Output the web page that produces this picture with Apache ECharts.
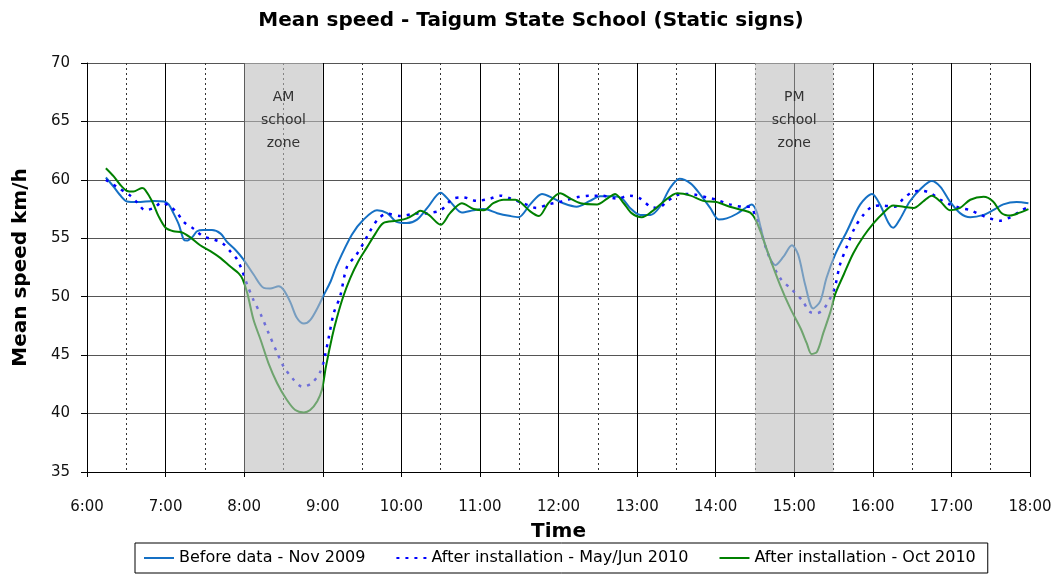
<!DOCTYPE html>
<html>
<head>
<meta charset="utf-8">
<script src="https://cdn.jsdelivr.net/npm/echarts@6/dist/echarts.min.js"></script>
<style>
html,body{margin:0;padding:0;background:#fff;}
#chart{width:1062px;height:579px;}
</style>
</head>
<body>
<div id="chart"></div>
<script>
// ---- data (time in decimal hours, mean speed km/h) ----
const beforeNov2009 = [[6.24,60.2],[6.34,59.4],[6.42,58.7],[6.51,58.15],[6.64,58.1],[6.85,58.2],[6.98,58.15],[7.04,57.9],[7.10,57.15],[7.17,56.15],[7.23,54.9],[7.27,54.8],[7.34,55.1],[7.40,55.6],[7.48,55.7],[7.59,55.7],[7.70,55.4],[7.78,54.7],[7.89,54.0],[7.99,53.2],[8.12,51.9],[8.25,50.75],[8.33,50.7],[8.44,50.9],[8.50,50.6],[8.59,49.5],[8.67,48.2],[8.76,47.7],[8.84,48.0],[8.93,49.0],[9.01,50.1],[9.10,51.3],[9.18,52.7],[9.37,55.3],[9.52,56.6],[9.69,57.4],[9.82,57.15],[9.94,56.4],[10.07,56.3],[10.20,56.6],[10.33,57.6],[10.50,58.9],[10.62,58.15],[10.77,57.2],[10.92,57.4],[11.05,57.5],[11.22,57.15],[11.39,56.9],[11.49,56.8],[11.64,57.9],[11.79,58.8],[11.94,58.4],[12.06,58.0],[12.23,57.7],[12.40,58.2],[12.53,58.6],[12.70,58.6],[12.81,58.4],[12.91,57.6],[13.04,57.0],[13.17,57.0],[13.29,57.7],[13.42,59.3],[13.54,60.1],[13.68,59.7],[13.81,58.7],[13.93,57.6],[14.04,56.6],[14.14,56.7],[14.27,57.1],[14.40,57.7],[14.46,57.9],[14.52,57.3],[14.57,56.0],[14.65,54.0],[14.76,52.7],[14.86,53.4],[14.97,54.4],[15.05,53.6],[15.14,51.0],[15.24,49.0],[15.33,49.6],[15.41,51.6],[15.52,53.6],[15.67,55.6],[15.84,57.9],[15.99,58.8],[16.09,57.9],[16.20,56.3],[16.26,55.9],[16.35,56.7],[16.47,58.15],[16.62,59.3],[16.75,59.9],[16.86,59.4],[16.98,58.15],[17.11,57.15],[17.24,56.8],[17.41,57.0],[17.53,57.4],[17.66,57.9],[17.83,58.1],[17.98,58.0]];

const afterMayJun2010 = [[6.24,60.0],[6.38,59.4],[6.55,58.65],[6.64,58.05],[6.74,57.4],[6.85,57.6],[6.95,58.05],[7.06,57.7],[7.15,57.15],[7.23,56.4],[7.36,55.8],[7.48,55.15],[7.61,54.9],[7.72,54.6],[7.82,53.9],[7.91,53.2],[7.97,52.3],[8.04,51.0],[8.12,49.7],[8.21,48.5],[8.31,46.9],[8.42,45.2],[8.50,44.05],[8.61,43.05],[8.74,42.3],[8.86,42.6],[8.97,43.6],[9.03,45.0],[9.07,46.3],[9.14,48.6],[9.22,50.0],[9.31,52.6],[9.42,53.5],[9.52,54.6],[9.60,55.6],[9.71,56.7],[9.82,57.1],[9.99,56.9],[10.16,57.1],[10.33,57.15],[10.50,57.4],[10.66,58.4],[10.79,58.5],[10.96,58.2],[11.13,58.4],[11.26,58.65],[11.39,58.4],[11.55,58.0],[11.72,57.6],[11.87,57.9],[12.04,58.15],[12.23,58.5],[12.40,58.65],[12.55,58.65],[12.74,58.4],[12.91,58.65],[13.04,58.4],[13.17,57.7],[13.27,57.6],[13.38,58.15],[13.51,58.7],[13.65,58.8],[13.76,58.7],[13.89,58.5],[14.01,58.3],[14.18,57.9],[14.35,57.7],[14.44,57.7],[14.50,57.0],[14.57,55.7],[14.67,53.6],[14.82,51.6],[14.97,50.6],[15.10,49.7],[15.20,48.7],[15.29,48.6],[15.37,48.9],[15.46,49.9],[15.52,50.9],[15.58,52.7],[15.67,54.3],[15.77,55.9],[15.88,57.0],[15.99,57.7],[16.13,57.8],[16.28,57.7],[16.39,58.4],[16.52,59.0],[16.64,59.05],[16.75,58.8],[16.86,58.3],[16.98,57.9],[17.11,57.6],[17.24,57.4],[17.37,57.0],[17.49,56.7],[17.62,56.5],[17.75,56.8],[17.87,57.3],[17.98,57.7]];

const afterOct2010 = [[6.24,61.0],[6.34,60.3],[6.42,59.6],[6.51,59.05],[6.59,59.0],[6.70,59.3],[6.74,59.15],[6.83,58.15],[6.91,56.9],[7.00,55.9],[7.10,55.6],[7.21,55.5],[7.31,55.1],[7.44,54.4],[7.57,53.9],[7.70,53.3],[7.82,52.6],[7.93,52.0],[7.98,51.5],[8.04,50.3],[8.12,48.0],[8.21,46.3],[8.31,44.3],[8.42,42.6],[8.54,41.2],[8.65,40.3],[8.76,40.1],[8.84,40.3],[8.93,41.05],[8.99,42.05],[9.04,44.0],[9.12,46.6],[9.18,48.2],[9.26,50.0],[9.35,51.6],[9.45,53.0],[9.56,54.2],[9.67,55.4],[9.77,56.3],[9.94,56.5],[10.07,56.7],[10.20,57.2],[10.24,57.35],[10.35,57.0],[10.50,56.15],[10.62,57.15],[10.77,58.0],[10.92,57.5],[11.05,57.4],[11.17,58.0],[11.30,58.3],[11.45,58.3],[11.53,58.0],[11.64,57.3],[11.75,56.9],[11.87,58.0],[12.02,58.85],[12.15,58.4],[12.28,58.0],[12.49,57.9],[12.62,58.4],[12.72,58.8],[12.83,58.0],[12.93,57.15],[13.06,56.8],[13.19,57.3],[13.34,58.15],[13.51,58.85],[13.68,58.65],[13.84,58.2],[14.01,58.1],[14.18,57.7],[14.35,57.4],[14.44,57.2],[14.50,56.7],[14.57,55.6],[14.69,53.3],[14.82,51.0],[14.95,49.0],[15.08,47.3],[15.16,46.0],[15.22,45.1],[15.29,45.3],[15.37,46.9],[15.46,48.7],[15.52,50.2],[15.63,51.9],[15.75,53.7],[15.88,55.15],[16.01,56.3],[16.13,57.15],[16.26,57.8],[16.39,57.7],[16.52,57.6],[16.64,58.15],[16.75,58.65],[16.86,58.15],[16.98,57.4],[17.11,57.6],[17.24,58.3],[17.41,58.55],[17.53,58.15],[17.64,57.15],[17.75,56.95],[17.87,57.2],[17.98,57.5]];

const seriesNames = ['Before data - Nov 2009', 'After installation - May/Jun 2010', 'After installation - Oct 2010'];
const xTickLabels = ['6:00','7:00','8:00','9:00','10:00','11:00','12:00','13:00','14:00','15:00','16:00','17:00','18:00'];
const xMin = 6, xMax = 18;
const yMin = 35, yMax = 70;
const zoneStarts = [8, 14.5];
const zoneEnds = [9, 15.5];
const zoneLabels = ['AM\nschool\nzone', 'PM\nschool\nzone'];

const FONT = 'DejaVu Sans';
const chart = echarts.init(document.getElementById('chart'), null, {renderer: 'canvas'});

const zoneData = zoneStarts.map((s, i) => [s, zoneEnds[i], yMin, yMax]);

chart.setOption({
  animation: false,
  backgroundColor: '#ffffff',
  title: {
    text: 'Mean speed - Taigum State School (Static signs)',
    left: 'center',
    top: 6,
    textStyle: {fontFamily: FONT, fontSize: 20, fontWeight: 'bold', color: '#000'}
  },
  legend: {
    data: seriesNames,
    left: 135,
    top: 543,
    padding: [7, 12, 7, 8],
    itemWidth: 30,
    itemHeight: 14,
    itemGap: 30,
    borderColor: '#000',
    borderWidth: 1,
    itemStyle: {opacity: 0},
    textStyle: {fontFamily: FONT, fontSize: 16, color: '#000'}
  },
  grid: {left: 87, right: 32, top: 63, bottom: 107, containLabel: false},
  xAxis: {
    type: 'value',
    min: xMin, max: xMax, interval: 1,
    name: 'Time',
    nameLocation: 'middle',
    nameGap: 50,
    nameTextStyle: {fontFamily: FONT, fontSize: 20, fontWeight: 'bold', color: '#000'},
    axisLine: {show: true, onZero: false, lineStyle: {color: '#000', width: 1}},
    axisTick: {show: true, length: 5, lineStyle: {color: '#000'}},
    axisLabel: {
      margin: 28,
      fontFamily: FONT, fontSize: 15, color: '#111',
      formatter: v => xTickLabels[Math.round(v - xMin)]
    },
    splitLine: {show: true, lineStyle: {color: '#000', width: 1}},
    minorTick: {show: false, splitNumber: 2},
    minorSplitLine: {show: true, lineStyle: {color: '#333', width: 1, type: [2, 3]}}
  },
  yAxis: {
    type: 'value',
    min: yMin, max: yMax, interval: 5,
    name: 'Mean speed km/h',
    nameLocation: 'middle',
    nameGap: 56,
    nameTextStyle: {fontFamily: FONT, fontSize: 20, fontWeight: 'bold', color: '#000'},
    axisLine: {show: true, lineStyle: {color: '#000', width: 1}},
    axisTick: {show: true, length: 6, lineStyle: {color: '#000'}},
    axisLabel: {margin: 17, fontFamily: FONT, fontSize: 15, color: '#111'},
    splitLine: {show: true, lineStyle: {color: '#555', width: 1}}
  },
  series: [
    {
      name: seriesNames[0], type: 'line', data: beforeNov2009,
      symbol: 'none', smooth: 0.3, z: 3,
      lineStyle: {color: '#1570c4', width: 2},
      itemStyle: {color: '#1570c4'}
    },
    {
      name: seriesNames[1], type: 'line', data: afterMayJun2010,
      symbol: 'none', smooth: 0.3, z: 4,
      lineStyle: {color: '#0000ff', width: 2.5, type: [3, 6]},
      itemStyle: {color: '#0000ff'}
    },
    {
      name: seriesNames[2], type: 'line', data: afterOct2010,
      symbol: 'none', smooth: 0.3, z: 5,
      lineStyle: {color: '#008000', width: 2},
      itemStyle: {color: '#008000'}
    },
    {
      name: 'zones', type: 'custom', z: 10, silent: true,
      data: zoneData,
      encode: {x: [0, 1], y: [2, 3]},
      renderItem: function (params, api) {
        const p1 = api.coord([api.value(0), api.value(3)]);
        const p2 = api.coord([api.value(1), api.value(2)]);
        const cx = (p1[0] + p2[0]) / 2;
        return {
          type: 'group',
          children: [
            {
              type: 'rect',
              shape: {x: p1[0], y: p1[1], width: p2[0] - p1[0], height: p2[1] - p1[1]},
              style: {fill: 'rgba(188,188,188,0.59)'}
            },
            {
              type: 'text',
              style: {
                text: zoneLabels[params.dataIndex],
                x: cx, y: p1[1] + 23,
                align: 'center', verticalAlign: 'top',
                font: '14px "' + FONT + '"',
                lineHeight: 23,
                fill: '#333'
              }
            }
          ]
        };
      }
    }
  ]
});
</script>
</body>
</html>
